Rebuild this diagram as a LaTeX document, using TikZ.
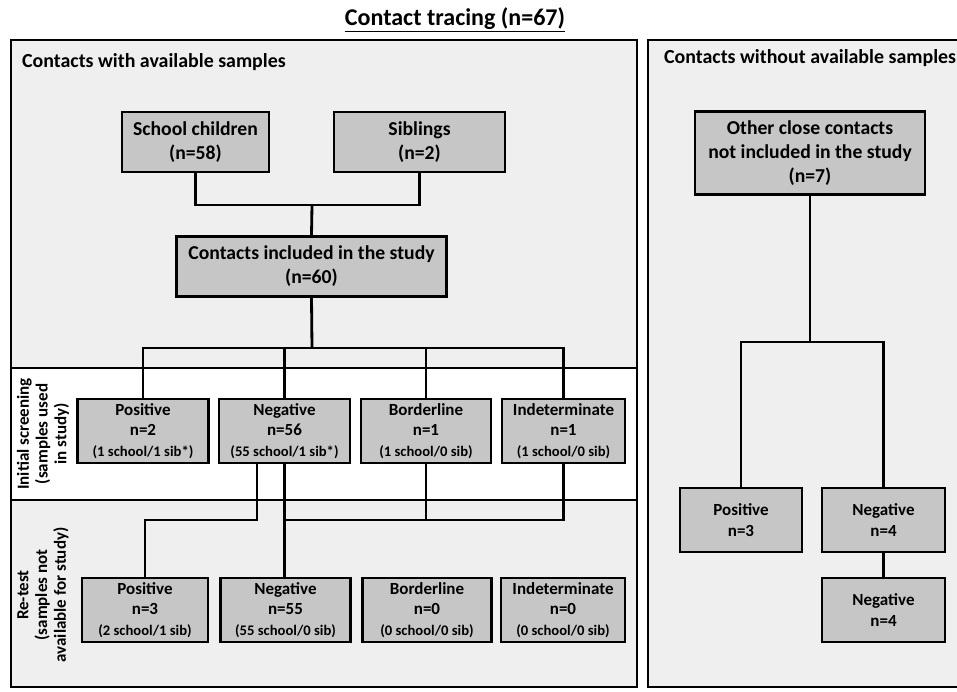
\documentclass[tikz,border=0pt]{standalone}
\usepackage{fontspec}
\setmainfont{Carlito}
\usepackage{tikz}

\definecolor{panelgray}{HTML}{EFEFEF}
\definecolor{boxgray}{HTML}{C6C6C6}
\newcommand{\subcount}[1]{{\fontsize{12.5}{14}\selectfont #1}}

\begin{document}
\begin{tikzpicture}[x=0.03cm, y=-0.03cm,
        box/.style={draw, fill=boxgray, line width=2.4pt, inner sep=0pt, align=center,
                    minimum height=1.92cm, font=\bfseries\fontsize{14.5}{17.5}\selectfont},
        bigbox/.style={box, minimum height=1.8cm, font=\bfseries\fontsize{16.8}{20.5}\selectfont},
        panel/.style={draw, fill=panelgray, line width=1.6pt},
        band/.style={draw, fill=white, line width=2.4pt},
        link/.style={line width=2.4pt},
        head/.style={anchor=west, font=\bfseries\fontsize{17}{20}\selectfont},
        side/.style={rotate=90, align=center, font=\bfseries\fontsize{14.5}{16}\selectfont}]
        \useasboundingbox (0,0) rectangle (957,691);

        % panels
        \draw[panel] (11,40) rectangle (637,687);
        \draw[band] (11,368) rectangle (637,500);
        \draw[panel] (648,40) rectangle (962,687);

        \node[font=\bfseries\fontsize{20.5}{24}\selectfont] (title) at (455,20) {\underline{Contact tracing (n=67)}};
        \node[head] (hwith) at (18,62) {Contacts with available samples};
        \node[head] (hwithout) at (660,58) {Contacts without available samples};

        \node[side] (lscreen) at (43,434) {Initial screening\\(samples used\\in study)};
        \node[side] (lretest) at (43,595) {Re-test\\(samples not\\available for study)};

        % contacts with samples
        \node[bigbox, minimum width=4.41cm] (school) at (195.5,142) {School children\\(n=58)};
        \node[bigbox, minimum width=5.13cm] (sibs) at (419.5,142) {Siblings\\(n=2)};
        \node[bigbox, minimum width=8.1cm] (incl) at (311.5,266.5) {Contacts included in the study\\(n=60)};

        \node[box, minimum width=3.93cm] (pos1) at (143,431) {Positive\\n=2\\\subcount{(1 school/1 sib*)}};
        \node[box, minimum width=3.93cm] (neg1) at (284.5,431) {Negative\\n=56\\\subcount{(55 school/1 sib*)}};
        \node[box, minimum width=3.9cm] (bord1) at (426,431) {Borderline\\n=1\\\subcount{(1 school/0 sib)}};
        \node[box, minimum width=3.69cm] (ind1) at (563.5,431) {Indeterminate\\n=1\\\subcount{(1 school/0 sib)}};

        \node[box, minimum width=3.78cm] (pos2) at (145,610) {Positive\\n=3\\\subcount{(2 school/1 sib)}};
        \node[box, minimum width=3.9cm] (neg2) at (285.5,610) {Negative\\n=55\\\subcount{(55 school/0 sib)}};
        \node[box, minimum width=3.87cm] (bord2) at (427,610) {Borderline\\n=0\\\subcount{(0 school/0 sib)}};
        \node[box, minimum width=3.72cm] (ind2) at (563,610) {Indeterminate\\n=0\\\subcount{(0 school/0 sib)}};

        \coordinate (j1) at (312,205);
        \coordinate (j2) at (312,348);
        \coordinate (j3) at (257,520);

        \draw[link] (school.south) |- (j1) -| (sibs.south);
        \draw[link] (j1) -- (incl.north);
        \draw[link] (incl.south) -- (j2);
        \draw[link] (pos1.north) |- (j2) -| (ind1.north);
        \draw[link] (neg1.north) -- (neg1.north |- j2);
        \draw[link] (bord1.north) -- (bord1.north |- j2);

        \draw[link] (neg1.south -| j3) -- (j3) -| (pos2.north);
        \draw[link] (neg1.south) -- (neg1.south |- neg2.north);
        \draw[link] (ind1.south) |- (neg1.south |- j3);
        \draw[link] (bord1.south) -- (bord1.south |- j3);

        % contacts without samples
        \node[bigbox, minimum width=6.9cm, minimum height=2.49cm] (other) at (810,153) {Other close contacts\\not included in the study\\(n=7)};
        \node[box, minimum width=3.66cm] (posR) at (741,520) {Positive\\n=3};
        \node[box, minimum width=3.69cm] (negR) at (883.5,520) {Negative\\n=4};
        \node[box, minimum width=3.69cm] (negR2) at (883.5,610) {Negative\\n=4};

        \coordinate (j5) at (810,342);
        \draw[link] (other.south) -- (j5);
        \draw[link] (posR.north) |- (j5) -| (negR.north);
        \draw[link] (negR.south) -- (negR2.north);
\end{tikzpicture}
\end{document}
